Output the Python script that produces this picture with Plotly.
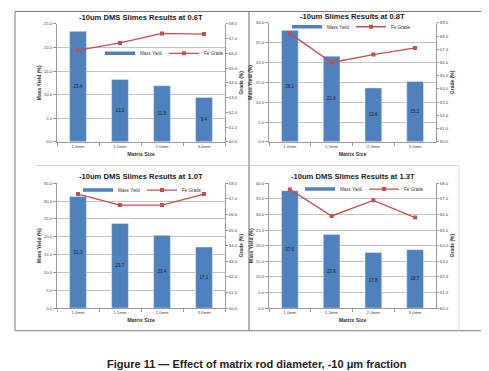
import plotly.graph_objects as go

W, H = 489, 371

sizes = ["1.0mm", "1.5mm", "2.0mm", "3.0mm"]

titles = [
    "-10um DMS Slimes Results at 0.6T",
    "-10um Slimes Results at 0.8T",
    "-10um DMS Slimes Results at 1.0T",
    "-10um DMS Slimes Results at 1.3T",
]
yield_06 = [23.4, 13.2, 11.9, 9.4]
grade_06 = [66.2, 66.7, 67.35, 67.3]
yield_08 = [28.1, 21.6, 13.6, 15.2]
grade_08 = [68.2, 66.0, 66.6, 67.1]
yield_10 = [31.3, 23.7, 20.4, 17.1]
grade_10 = [67.3, 66.6, 66.6, 67.3]
yield_13 = [37.6, 23.6, 17.8, 18.7]
grade_13 = [67.6, 65.9, 66.9, 65.8]

yield_max = [25, 30, 35, 40]
grade_range = [[60, 68], [60, 69], [60, 68], [60, 68]]

caption = "Figure 11 \u2014 Effect of matrix rod diameter, -10 \u03bcm fraction"

yields = [yield_06, yield_08, yield_10, yield_13]
grades = [grade_06, grade_08, grade_10, grade_13]

BLUE = "#4F81BD"
RED = "#C0504D"
GRID = "#C4C4C4"
AX = "#9A9A9A"
FONT = "Liberation Sans"

# plot areas in pixels: (left, right, top, bottom)
boxes = [(49, 217, 13, 133), (261, 428, 12, 133), (49, 217, 175, 302), (261, 428, 175, 302)]
legend_pos = [(156, 43), (343, 16), (134, 182), (356, 181)]
title_y = [7, 6, 168, 168]


def px(x):
    return x / W


def py(y):
    return 1 - y / H


fig = go.Figure()
layout = dict(
    width=W, height=H, margin=dict(l=0, r=0, t=0, b=0),
    paper_bgcolor="white", plot_bgcolor="white",
    font=dict(family=FONT, color="#333333"),
    bargap=0.6,
    annotations=[], shapes=[],
)

for i in range(4):
    xa = "x" if i == 0 else f"x{i+1}"
    ya = f"y{2*i+1}" if i > 0 else "y"
    yb = f"y{2*i+2}"
    lg = "legend" if i == 0 else f"legend{i+1}"
    fig.add_trace(go.Bar(
        x=sizes, y=yields[i], xaxis=xa, yaxis=ya, name="Mass Yield",
        marker=dict(color=BLUE), texttemplate="%{y:.1f}", textposition="inside",
        insidetextanchor="middle", textangle=0, constraintext="none",
        textfont=dict(size=4.5, color="#1a1a2a"), showlegend=False,
    ))
    # legend key for the bars (Excel-style short bar swatch)
    fig.add_trace(go.Scatter(
        x=[None], y=[None], xaxis=xa, yaxis=ya, name="Mass Yield", mode="lines",
        line=dict(color=BLUE, width=3.5), legend=lg, hoverinfo="skip",
    ))
    fig.add_trace(go.Scatter(
        x=sizes, y=grades[i], xaxis=xa, yaxis=yb, name="Fe Grade",
        mode="lines+markers", line=dict(color=RED, width=1.3),
        marker=dict(symbol="square", size=4, color=RED), legend=lg,
    ))
    l, r, t, b = boxes[i]
    xk = "xaxis" if i == 0 else f"xaxis{i+1}"
    yk1 = "yaxis" if i == 0 else f"yaxis{2*i+1}"
    yk2 = f"yaxis{2*i+2}"
    layout[xk] = dict(
        domain=[px(l), px(r)], anchor=ya, type="category",
        showline=True, linecolor=AX, linewidth=1, ticks="outside", tickson="boundaries",
        ticklen=3, tickcolor=AX, tickfont=dict(size=4.3, color="#444"),
        title=dict(text="Matrix Size", font=dict(size=5.3, weight="bold", color="#333"), standoff=4),
        showgrid=False,
    )
    layout[yk1] = dict(
        domain=[py(b), py(t)], anchor=xa, range=[0, yield_max[i]], dtick=5,
        tickformat=".1f", showline=True, linecolor=AX, ticks="outside", ticklen=3,
        tickcolor=AX, tickfont=dict(size=4.3, color="#444"), showgrid=True,
        gridcolor=GRID, gridwidth=1, zeroline=False,
        title=dict(text="Mass Yield (%)", font=dict(size=5, weight="bold", color="#333"), standoff=2),
    )
    layout[yk2] = dict(
        overlaying=ya, side="right", anchor=xa, range=grade_range[i], dtick=1,
        tickformat=".1f", showline=True, linecolor=AX, ticks="outside", ticklen=2,
        tickcolor=AX, tickfont=dict(size=4.2, color="#444"), showgrid=False,
        zeroline=False,
        title=dict(text="Grade (%)", font=dict(size=5, weight="bold", color="#333"), standoff=1),
    )
    lx, lyy = legend_pos[i]
    layout[lg] = dict(
        x=px(lx), y=py(lyy), xanchor="center", yanchor="middle", orientation="h",
        font=dict(size=4.5, color="#333"), itemwidth=30, bgcolor="rgba(0,0,0,0)",
        tracegroupgap=0, entrywidth=19,
    )
    layout["annotations"].append(dict(
        text=f"<b>{titles[i]}</b>", x=px((l + r) / 2), y=py(title_y[i]),
        xref="paper", yref="paper", showarrow=False, xanchor="center", yanchor="middle",
        font=dict(size=7.6, color="#1a1a1a", family=FONT),
    ))

layout["annotations"].append(dict(
    text=f"<b>{caption}</b>", x=px(249), y=py(359), xref="paper", yref="paper",
    showarrow=False, xanchor="center", yanchor="middle",
    font=dict(size=11, color="#222", family=FONT),
))

# frame lines
layout["shapes"] += [
    dict(type="rect", xref="paper", yref="paper", x0=px(7), x1=px(478), y0=py(325), y1=py(0.5),
         line=dict(color="#7a7a7a", width=1)),
    dict(type="line", xref="paper", yref="paper", x0=px(241), x1=px(241), y0=py(325), y1=py(0),
         line=dict(color="#6a6a6a", width=1)),
    dict(type="line", xref="paper", yref="paper", x0=px(28), x1=px(240), y0=py(157), y1=py(157),
         line=dict(color="#cfcfcf", width=1)),
    dict(type="line", xref="paper", yref="paper", x0=px(241), x1=px(451), y0=py(157), y1=py(157),
         line=dict(color="#cfcfcf", width=1)),
    dict(type="line", xref="paper", yref="paper", x0=px(451), x1=px(451), y0=py(325), y1=py(158),
         line=dict(color="#dadada", width=1)),
]

fig.update_layout(**layout)
fig.write_html("out.html")
